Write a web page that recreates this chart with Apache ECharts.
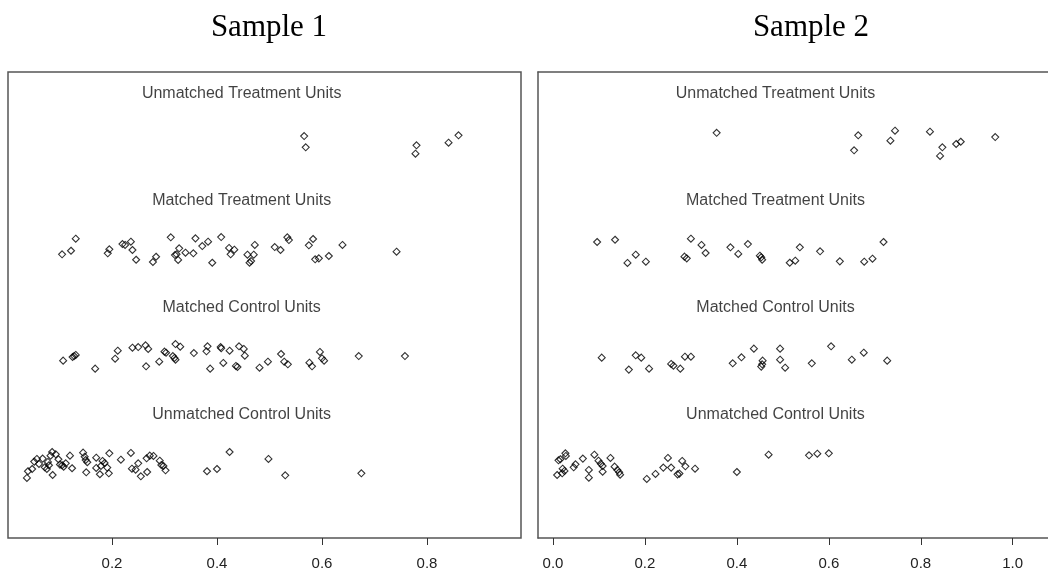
<!DOCTYPE html>
<html>
<head>
<meta charset="utf-8">
<script src="https://cdn.jsdelivr.net/npm/echarts@6/dist/echarts.min.js"></script>
<style>html,body{margin:0;padding:0;background:#fff;}#c{width:1048px;height:574px;}</style>
</head>
<body>
<div id="c"></div>
<script>
// ---- data: each point is [propensity score, vertical jitter] ----
const groupNames = ['Unmatched Treatment Units', 'Matched Treatment Units', 'Matched Control Units', 'Unmatched Control Units'];
const groupLevels = [4, 3, 2, 1];
const panelTitles = ['Sample 1', 'Sample 2'];
const ticksLeft = [0.2, 0.4, 0.6, 0.8];
const ticksRight = [0.0, 0.2, 0.4, 0.6, 0.8, 1.0];

const s1UnmatchedTreat = [[0.566,0.065],[0.569,-0.040],[0.780,-0.021],[0.778,-0.100],[0.841,0.003],[0.860,0.072]];
const s1MatchedTreat = [[0.105,-0.040],[0.122,-0.007],[0.131,0.106],[0.192,-0.031],[0.195,0.007],[0.220,0.056],[0.225,0.047],[0.236,0.078],[0.239,0.000],[0.246,-0.091],[0.278,-0.112],[0.284,-0.063],[0.312,0.119],[0.320,-0.047],[0.323,-0.040],[0.326,-0.093],[0.328,0.016],[0.340,-0.025],[0.355,-0.031],[0.359,0.109],[0.372,0.037],[0.383,0.078],[0.391,-0.119],[0.408,0.121],[0.423,0.019],[0.426,-0.040],[0.433,0.003],[0.458,-0.044],[0.462,-0.119],[0.465,-0.103],[0.470,-0.044],[0.472,0.047],[0.510,0.028],[0.521,0.000],[0.534,0.119],[0.537,0.093],[0.575,0.044],[0.583,0.103],[0.587,-0.087],[0.594,-0.078],[0.613,-0.056],[0.639,0.047],[0.742,-0.016]];
const s1MatchedCtrl = [[0.107,-0.034],[0.125,0.000],[0.128,0.009],[0.131,0.019],[0.168,-0.109],[0.206,-0.016],[0.211,0.059],[0.239,0.087],[0.250,0.093],[0.264,0.109],[0.269,0.075],[0.265,-0.087],[0.290,-0.044],[0.300,0.050],[0.303,0.040],[0.316,0.009],[0.319,-0.009],[0.321,-0.025],[0.321,0.121],[0.330,0.096],[0.356,0.037],[0.380,0.053],[0.382,0.100],[0.387,-0.109],[0.407,0.093],[0.408,0.081],[0.412,-0.056],[0.424,0.059],[0.436,-0.084],[0.439,-0.093],[0.442,0.100],[0.451,0.075],[0.453,0.012],[0.481,-0.100],[0.497,-0.044],[0.522,0.028],[0.528,-0.044],[0.535,-0.068],[0.576,-0.053],[0.581,-0.087],[0.596,0.047],[0.600,-0.012],[0.604,-0.034],[0.670,0.009],[0.758,0.009]];
const s1UnmatchedCtrl = [[0.038,-0.131],[0.040,-0.068],[0.048,-0.047],[0.052,0.022],[0.057,0.047],[0.061,0.000],[0.068,0.050],[0.072,-0.031],[0.076,-0.047],[0.078,0.019],[0.080,-0.012],[0.083,0.078],[0.086,0.112],[0.087,-0.103],[0.093,0.090],[0.098,0.044],[0.101,-0.006],[0.105,-0.012],[0.108,-0.025],[0.112,0.006],[0.120,0.078],[0.124,-0.040],[0.145,0.106],[0.148,0.068],[0.150,0.037],[0.153,0.016],[0.151,-0.078],[0.170,0.059],[0.170,-0.037],[0.177,-0.096],[0.179,-0.019],[0.182,0.028],[0.186,0.009],[0.191,-0.034],[0.194,-0.087],[0.195,0.100],[0.217,0.040],[0.236,0.103],[0.238,-0.044],[0.245,-0.053],[0.250,0.006],[0.255,-0.115],[0.266,0.053],[0.267,-0.075],[0.272,0.078],[0.279,0.075],[0.291,0.031],[0.294,-0.009],[0.298,-0.019],[0.302,-0.059],[0.381,-0.068],[0.400,-0.047],[0.424,0.112],[0.498,0.047],[0.530,-0.106],[0.675,-0.087]];

const s2UnmatchedTreat = [[0.356,0.096],[0.664,0.072],[0.655,-0.068],[0.744,0.115],[0.734,0.022],[0.820,0.106],[0.847,-0.040],[0.842,-0.121],[0.877,-0.009],[0.887,0.012],[0.962,0.056]];
const s2MatchedTreat = [[0.096,0.075],[0.135,0.096],[0.162,-0.121],[0.180,-0.044],[0.202,-0.109],[0.286,-0.062],[0.291,-0.078],[0.300,0.106],[0.323,0.047],[0.332,-0.028],[0.386,0.025],[0.403,-0.037],[0.424,0.056],[0.450,-0.053],[0.453,-0.068],[0.455,-0.091],[0.515,-0.119],[0.527,-0.100],[0.537,0.025],[0.581,-0.012],[0.624,-0.106],[0.677,-0.109],[0.695,-0.081],[0.719,0.075]];
const s2MatchedCtrl = [[0.106,-0.006],[0.165,-0.118],[0.180,0.016],[0.192,-0.006],[0.209,-0.109],[0.257,-0.065],[0.262,-0.081],[0.277,-0.109],[0.287,0.003],[0.300,0.003],[0.391,-0.059],[0.410,-0.003],[0.437,0.078],[0.456,-0.034],[0.455,-0.068],[0.453,-0.090],[0.494,0.078],[0.494,-0.025],[0.505,-0.100],[0.563,-0.059],[0.605,0.100],[0.650,-0.025],[0.676,0.040],[0.727,-0.034]];
const s2UnmatchedCtrl = [[0.009,-0.103],[0.012,0.034],[0.016,0.044],[0.020,-0.087],[0.021,-0.044],[0.025,-0.065],[0.027,0.100],[0.028,0.075],[0.045,-0.031],[0.049,-0.003],[0.065,0.050],[0.078,-0.056],[0.078,-0.128],[0.090,0.087],[0.099,0.031],[0.104,0.003],[0.108,-0.019],[0.108,-0.072],[0.125,0.056],[0.134,-0.025],[0.140,-0.056],[0.144,-0.078],[0.146,-0.100],[0.204,-0.140],[0.223,-0.093],[0.240,-0.034],[0.250,0.056],[0.257,-0.034],[0.271,-0.097],[0.275,-0.090],[0.281,0.028],[0.288,-0.022],[0.309,-0.044],[0.400,-0.075],[0.469,0.087],[0.557,0.081],[0.575,0.096],[0.600,0.100]];

// where the group labels sit (x value, offset above the group level)
const labelXLeft = 0.447;
const labelXRight = 0.484;
const labelOffset = 0.465;

const frame = { color: '#555', width: 1.5 };

const panels = [
  { groups: [s1UnmatchedTreat, s1MatchedTreat, s1MatchedCtrl, s1UnmatchedCtrl], ticks: ticksLeft, labelX: labelXLeft, min: 0.002, max: 0.979, left: 8, width: 513, fullBox: true },
  { groups: [s2UnmatchedTreat, s2MatchedTreat, s2MatchedCtrl, s2UnmatchedCtrl], ticks: ticksRight, labelX: labelXRight, min: -0.0326, max: 1.0768, left: 538, width: 510, fullBox: false }
];

const grids = [], xAxes = [], yAxes = [], series = [], graphics = [];
panels.forEach((p, i) => {
  grids.push({ left: p.left, top: 72, width: p.width, height: 466, show: p.fullBox, borderColor: frame.color, borderWidth: frame.width, backgroundColor: 'transparent' });
  xAxes.push({
    type: 'value', gridIndex: i, min: p.min, max: p.max, position: 'bottom',
    splitLine: { show: false }, axisLine: { show: !p.fullBox, onZero: false, lineStyle: { color: frame.color, width: frame.width } },
    axisTick: { show: true, length: 7, lineStyle: { color: '#333', width: 1 }, customValues: p.ticks },
    axisLabel: { show: true, customValues: p.ticks, margin: 18, fontSize: 15, color: '#222', fontFamily: 'Liberation Sans', formatter: v => v.toFixed(1) }
  });
  yAxes.push({ type: 'value', gridIndex: i, min: 0.308, max: 4.664, show: !p.fullBox, position: 'left',
    axisLine: { show: true, onZero: false, lineStyle: { color: frame.color, width: frame.width } },
    axisTick: { show: false }, axisLabel: { show: false }, splitLine: { show: false } });
});
// top edge of the (cut-off) right panel frame
xAxes.push({ type: 'value', gridIndex: 1, min: -0.0326, max: 1.0768, position: 'top',
  axisLine: { show: true, onZero: false, lineStyle: { color: frame.color, width: frame.width } },
  axisTick: { show: false }, axisLabel: { show: false }, splitLine: { show: false } });

panels.forEach((p, i) => {
  p.groups.forEach((g, k) => {
    series.push({
      type: 'scatter', xAxisIndex: i, yAxisIndex: i, symbol: 'diamond', symbolSize: 7,
      itemStyle: { color: 'rgba(255,255,255,0)', borderColor: '#000', borderWidth: 1.1 },
      silent: true, animation: false,
      data: g.map(d => [d[0], groupLevels[k] + d[1]])
    });
  });
  series.push({
    type: 'scatter', xAxisIndex: i, yAxisIndex: i, symbolSize: 1, silent: true, animation: false,
    itemStyle: { color: 'rgba(0,0,0,0)' },
    label: { show: true, position: 'inside', formatter: q => q.name, fontSize: 16, color: '#111', fontFamily: 'Liberation Sans' },
    data: groupNames.map((n, k) => ({ name: n, value: [p.labelX, groupLevels[k] + labelOffset] }))
  });
});

graphics.push({ type: 'text', x: 269, y: 28, style: { text: panelTitles[0], fontSize: 31, fontFamily: 'Liberation Serif', fill: '#000', textAlign: 'center', textVerticalAlign: 'middle' } });
graphics.push({ type: 'text', x: 811, y: 28, style: { text: panelTitles[1], fontSize: 31, fontFamily: 'Liberation Serif', fill: '#000', textAlign: 'center', textVerticalAlign: 'middle' } });

const chart = echarts.init(document.getElementById('c'), null, { renderer: 'canvas' });
chart.setOption({ animation: false, grid: grids, xAxis: xAxes, yAxis: yAxes, series: series, graphic: graphics });
</script>
</body>
</html>
